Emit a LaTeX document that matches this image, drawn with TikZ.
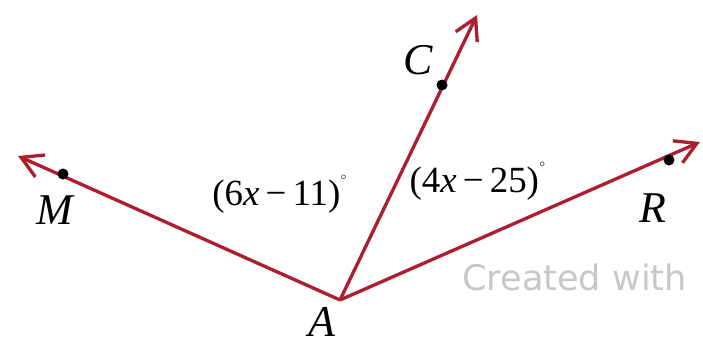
\documentclass[tikz,border=0pt]{standalone}
\usepackage{fontspec}
\setmainfont{Liberation Serif}
\newfontfamily\wmfont{DejaVu Sans}
\usetikzlibrary{arrows.meta}
\definecolor{raycol}{RGB}{172,30,48}
\tikzset{
  ray/.style={draw=raycol,line width=1.9pt,-{Straight Barb[length=4.2mm,width=4.8mm,line width=1.9pt]}},
  pt/.style={circle,fill=black,inner sep=0pt,minimum size=2.2mm},
  lbl/.style={font=\fontsize{25}{30}\selectfont\itshape},
  anglbl/.style={font=\fontsize{21}{25}\selectfont}
}
\begin{document}
\begin{tikzpicture}[x=0.02cm,y=-0.02cm]
    \useasboundingbox (0,0) rectangle (703,344);
    \coordinate (A) at (340,300);
    \coordinate (Mtip) at (18,156);
    \coordinate (Ctip) at (477,15);
    \coordinate (Rtip) at (700,142);
    \draw [ray] (A) to (Mtip);
    \draw [ray] (A) to (Ctip);
    \draw [ray] (A) to (Rtip);
    \node [pt] (M) at (63,174) {};
    \node [pt] (C) at (442,85) {};
    \node [pt] (R) at (669,160) {};
    \node [lbl] (Mlbl) at (55,210) {M};
    \node [lbl] (Clbl) at (418,60) {C};
    \node [lbl] (Rlbl) at (653,208) {R};
    \node [lbl] (Albl) at (322,322) {A};
    \node [anglbl] (angMA) at (280,194) {(6\textit{x}\,−\,11)\raisebox{1.2ex}{\scriptsize$^\circ$}};
    \node [anglbl] (angCA) at (478,181) {(4\textit{x}\,−\,25)\raisebox{1.2ex}{\scriptsize$^\circ$}};
    \node [anchor=west,text=black!22,font=\wmfont\fontsize{20}{24}\selectfont] (wm) at (456,277) {Created with};
  \end{tikzpicture}
\end{document}
